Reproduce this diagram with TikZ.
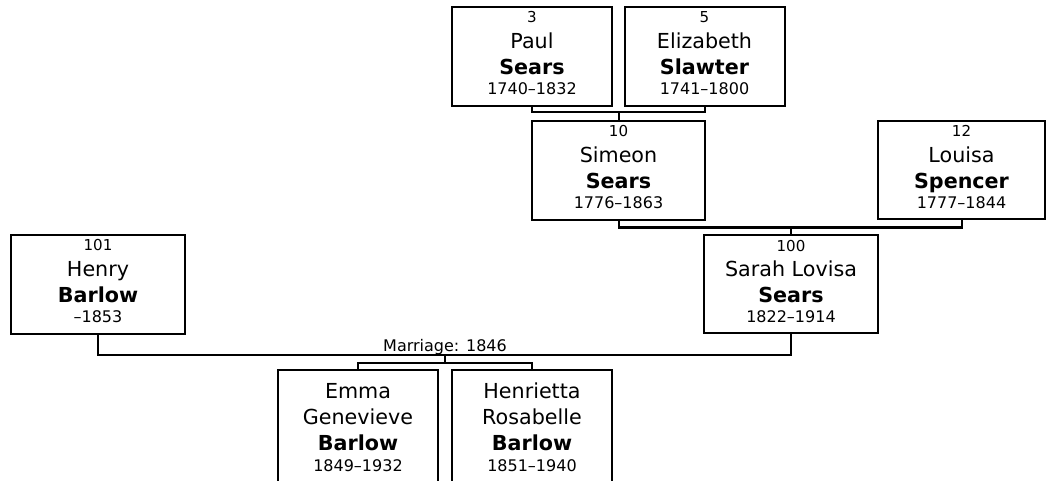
\documentclass[tikz,border=0pt]{standalone}
\usepackage{fontspec}
\setmainfont{DejaVu Sans}
\usetikzlibrary{calc}
\tikzset{
  pbox/.style={draw=black, line width=1.5pt, rectangle, inner sep=0pt, fill=white},
  conn/.style={draw=black, line width=1.5pt},
  numtxt/.style={anchor=base, inner sep=0pt, font=\fontsize{11.3}{13}\selectfont},
  nametxt/.style={anchor=base, inner sep=0pt, font=\fontsize{15.5}{18}\selectfont},
  surtxt/.style={anchor=base, inner sep=0pt, font=\fontsize{15.5}{18}\selectfont\bfseries},
  datetxt/.style={anchor=base, inner sep=0pt, font=\fontsize{12}{14}\selectfont},
}
\newcommand\personlines[5]{%
  \node[numtxt]  (#1-n) at ($(#1.north)+(0,17)$) {#2};
  \node[nametxt] (#1-g) at ($(#1.north)+(0,42.5)$) {#3};
  \node[surtxt]  (#1-s) at ($(#1.north)+(0,68.5)$) {#4};
  \node[datetxt] (#1-d) at ($(#1.north)+(0,88.5)$) {#5};
}
\newcommand\childlines[5]{%
  \node[nametxt] (#1-g) at ($(#1.north)+(0,29)$) {#2};
  \node[nametxt] (#1-h) at ($(#1.north)+(0,55)$) {#3};
  \node[surtxt]  (#1-s) at ($(#1.north)+(0,81)$) {#4};
  \node[datetxt] (#1-d) at ($(#1.north)+(0,102)$) {#5};
}
\begin{document}
\begin{tikzpicture}[x=0.75pt,y=-0.75pt]
\useasboundingbox (0,0) rectangle (1046,481);
\clip (0,0) rectangle (1046,481);
% boxes
\node[pbox, minimum width=160*0.75pt, minimum height=99*0.75pt] (paul) at (532,56.5) {};
\node[pbox, minimum width=160*0.75pt, minimum height=99*0.75pt] (eliz) at (704.5,56.5) {};
\node[pbox, minimum width=173*0.75pt, minimum height=99*0.75pt] (simeon) at (618.5,170.5) {};
\node[pbox, minimum width=167*0.75pt, minimum height=98*0.75pt] (louisa) at (961.5,170) {};
\node[pbox, minimum width=174*0.75pt, minimum height=98*0.75pt] (sarah) at (791,284) {};
\node[pbox, minimum width=174*0.75pt, minimum height=99*0.75pt] (henry) at (98,284) {};
\node[pbox, minimum width=160*0.75pt, minimum height=130*0.75pt] (emma) at (358,435) {};
\node[pbox, minimum width=160*0.75pt, minimum height=130*0.75pt] (henrietta) at (532,435) {};
% junctions
\coordinate (j1) at (618.5,112.5);
\coordinate (j2) at (791,227.5);
\coordinate (j3) at (445,355);
\coordinate (j4) at (445,363);
% connectors
\draw[conn] (paul.south) |- (j1) -| (eliz.south);
\draw[conn] (j1) -- (simeon.north);
\draw[conn] (simeon.south) |- (j2) -| (louisa.south);
\draw[conn] (j2) -- (sarah.north);
\draw[conn] (henry.south) |- (j3) -| (sarah.south);
\draw[conn] (j3) -- (j4);
\draw[conn] (emma.north) |- (j4) -| (henrietta.north);
\node[datetxt] (marr) at (445,351.5) {Marriage: 1846};
% texts
\personlines{paul}{3}{Paul}{Sears}{1740–1832}
\personlines{eliz}{5}{Elizabeth}{Slawter}{1741–1800}
\personlines{simeon}{10}{Simeon}{Sears}{1776–1863}
\personlines{louisa}{12}{Louisa}{Spencer}{1777–1844}
\personlines{sarah}{100}{Sarah Lovisa}{Sears}{1822–1914}
\personlines{henry}{101}{Henry}{Barlow}{–1853}
\childlines{emma}{Emma}{Genevieve}{Barlow}{1849–1932}
\childlines{henrietta}{Henrietta}{Rosabelle}{Barlow}{1851–1940}
\end{tikzpicture}
\end{document}
